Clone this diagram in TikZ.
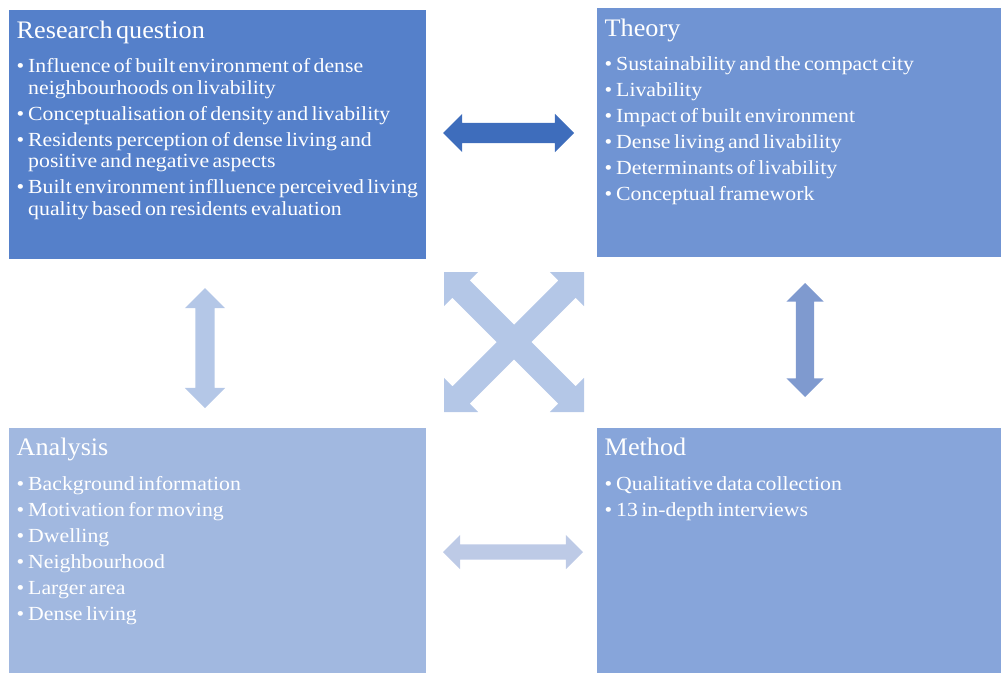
\documentclass[tikz,border=0pt]{standalone}
\usepackage{fontspec}
\setmainfont{Liberation Serif}[FakeStretch=1.09]
\newfontfamily\titlefont{Liberation Serif}[FakeStretch=1.04]
\usetikzlibrary{shapes.arrows}

\definecolor{rqblue}{HTML}{5580CA}
\definecolor{thblue}{HTML}{7094D3}
\definecolor{anblue}{HTML}{A1B8E0}
\definecolor{meblue}{HTML}{87A5DA}
\definecolor{darkarrow}{HTML}{3E6DBC}
\definecolor{lightarrow}{HTML}{B4C7E7}
\definecolor{midarrow}{HTML}{7F9ACF}
\definecolor{palearrow}{HTML}{BDCAE6}

\newcommand{\boxfont}{\fontsize{20}{21.7}\selectfont\setlength{\parskip}{4.3pt}}
\newcommand{\boxtitle}[1]{{\titlefont\fontsize{25.2}{30}\selectfont #1}\par\vspace{8.5pt}}
\newcommand{\bitem}[1]{\noindent\hangindent=11.5pt\hangafter=1\makebox[11.5pt][l]{\textbullet}#1\par}

\begin{document}
\begin{tikzpicture}[x=1pt, y=-1pt,
    panel/.style={fill=#1, anchor=north west, inner sep=0pt, minimum width=417pt},
    paneltext/.style={anchor=base west, inner sep=0pt, text=white, text width=440pt, align=left},
    dblarrow/.style={double arrow, fill=#1, inner xsep=0pt, double arrow tip angle=90}]
  \useasboundingbox (0,0) rectangle (1001,673);

  % the four boxes
  \node[panel=rqblue, minimum height=249pt] (rq) at (9,10) {};
  \node[panel=thblue, minimum width=404pt, minimum height=249pt] (th) at (597,8) {};
  \node[panel=anblue, minimum height=245pt] (an) at (9,428) {};
  \node[panel=meblue, minimum width=404pt, minimum height=245pt] (me) at (597,428) {};

  \node[paneltext] (rq-text) at ([xshift=7.5pt, yshift=-28pt]rq.north west) {\boxfont
    \boxtitle{Research question}
    \bitem{Influence of built environment of dense\newline neighbourhoods on livability}
    \bitem{Conceptualisation of density and livability}
    \bitem{Residents perception of dense living and\newline positive and negative aspects}
    \bitem{Built environment inflluence perceived living\newline quality based on residents evaluation}};
  \node[paneltext] (th-text) at ([xshift=7.5pt, yshift=-28pt]th.north west) {\boxfont
    \boxtitle{Theory}
    \bitem{Sustainability and the compact city}
    \bitem{Livability}
    \bitem{Impact of built environment}
    \bitem{Dense living and livability}
    \bitem{Determinants of livability}
    \bitem{Conceptual framework}};
  \node[paneltext] (an-text) at ([xshift=7.5pt, yshift=-27.5pt]an.north west) {\boxfont
    \boxtitle{Analysis}
    \bitem{Background information}
    \bitem{Motivation for moving}
    \bitem{Dwelling}
    \bitem{Neighbourhood}
    \bitem{Larger area}
    \bitem{Dense living}};
  \node[paneltext] (me-text) at ([xshift=7.5pt, yshift=-27.5pt]me.north west) {\boxfont
    \boxtitle{Method}
    \bitem{Qualitative data collection}
    \bitem{13 in-depth interviews}};

  % arrows between the boxes
  \node[dblarrow=darkarrow, minimum height=131pt, inner ysep=10pt, double arrow head extend=9pt] (rq-th) at (508.5,133) {};
  \node[dblarrow=lightarrow, rotate=90, minimum height=120pt, inner ysep=9.5pt, double arrow head extend=10.5pt] (rq-an) at (205,348) {};
  \node[dblarrow=midarrow, rotate=90, minimum height=114pt, inner ysep=9pt, double arrow head extend=9.5pt] (th-me) at (805,340) {};
  \node[dblarrow=palearrow, minimum height=140pt, inner ysep=7.5pt, double arrow head extend=9.5pt] (an-me) at (513,552) {};
  \node[dblarrow=lightarrow, rotate=45, minimum height=198pt, inner ysep=12pt, double arrow head extend=12pt] (an-th) at (514,342) {};
  \node[dblarrow=lightarrow, rotate=-45, minimum height=198pt, inner ysep=12pt, double arrow head extend=12pt] (rq-me) at (514,342) {};
\end{tikzpicture}
\end{document}
